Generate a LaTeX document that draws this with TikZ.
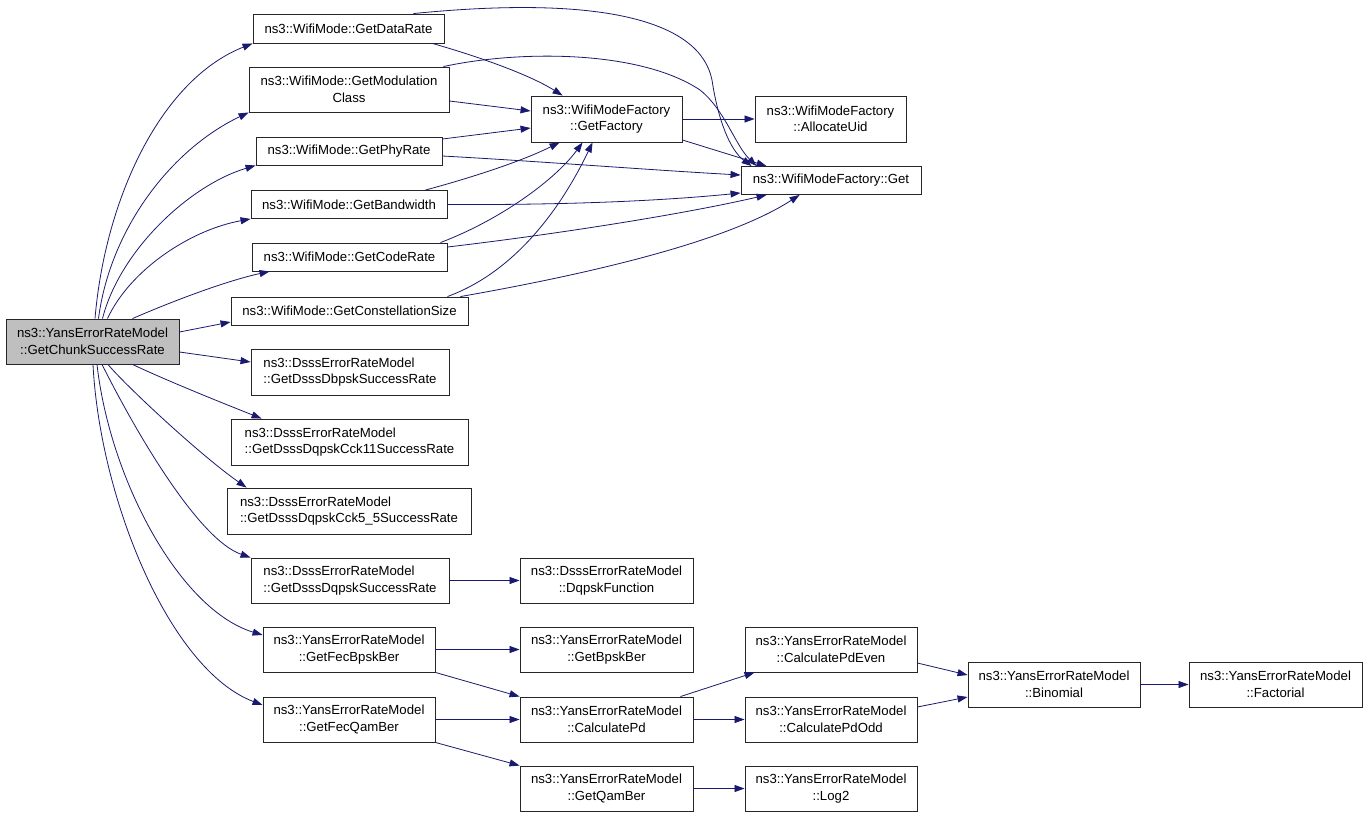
\documentclass[tikz,border=0pt]{standalone}
\usepackage{fontspec}
\setmainfont{Liberation Sans}
\usetikzlibrary{arrows.meta}
\definecolor{edgeblue}{HTML}{191970}
\definecolor{rootgray}{HTML}{BFBFBF}
\newcommand{\dfont}{\fontsize{13.2}{16.5}\selectfont}
\begin{document}
\begin{tikzpicture}[x=1pt,y=-1pt,
  box/.style={draw=black!85, fill=white, line width=0.9pt, inner sep=0pt, align=center, font=\dfont},
  lbox/.style={box, align=left},
  e/.style={draw=edgeblue, line width=0.8pt, -{Triangle[length=10pt,width=7pt]}}]
\useasboundingbox[fill=white] (0,0) rectangle (1368,817);
% nodes
\node[box, fill=rootgray, minimum width=173pt, minimum height=45pt] (root) at (92.5,341.5) {ns3::YansErrorRateModel\\::GetChunkSuccessRate};
\node[box, minimum width=191pt, minimum height=29pt] (dr) at (348.5,28.5) {ns3::WifiMode::GetDataRate};
\node[box, minimum width=200pt, minimum height=45pt] (mc) at (349,89.5) {ns3::WifiMode::GetModulation\\Class};
\node[box, minimum width=186pt, minimum height=28pt] (pr) at (349,151) {ns3::WifiMode::GetPhyRate};
\node[box, minimum width=196pt, minimum height=28pt] (bw) at (349,204.5) {ns3::WifiMode::GetBandwidth};
\node[box, minimum width=195pt, minimum height=28pt] (cr) at (349.5,257) {ns3::WifiMode::GetCodeRate};
\node[box, minimum width=237pt, minimum height=28pt] (cs) at (349.5,311) {ns3::WifiMode::GetConstellationSize};
\node[lbox, minimum width=198pt, minimum height=46pt] (dbpsk) at (350,372) {ns3::DsssErrorRateModel\\::GetDsssDbpskSuccessRate};
\node[lbox, minimum width=237pt, minimum height=46pt] (cck11) at (349.5,442) {ns3::DsssErrorRateModel\\::GetDsssDqpskCck11SuccessRate};
\node[lbox, minimum width=244pt, minimum height=46pt] (cck55) at (349,511) {ns3::DsssErrorRateModel\\::GetDsssDqpskCck5\_5SuccessRate};
\node[lbox, minimum width=198pt, minimum height=45pt] (dqpsk) at (350,580.5) {ns3::DsssErrorRateModel\\::GetDsssDqpskSuccessRate};
\node[box, minimum width=172pt, minimum height=45pt] (fecb) at (349,649.5) {ns3::YansErrorRateModel\\::GetFecBpskBer};
\node[box, minimum width=172pt, minimum height=45pt] (fecq) at (349,719.5) {ns3::YansErrorRateModel\\::GetFecQamBer};
\node[box, minimum width=151pt, minimum height=46pt] (gf) at (606.5,119) {ns3::WifiModeFactory\\::GetFactory};
\node[box, minimum width=151pt, minimum height=46pt] (au) at (830.5,119) {ns3::WifiModeFactory\\::AllocateUid};
\node[box, minimum width=180pt, minimum height=28pt] (get) at (831,180.5) {ns3::WifiModeFactory::Get};
\node[box, minimum width=173pt, minimum height=45pt] (dqf) at (606.5,580.5) {ns3::DsssErrorRateModel\\::DqpskFunction};
\node[box, minimum width=173pt, minimum height=45pt] (bpsk) at (606.5,649.5) {ns3::YansErrorRateModel\\::GetBpskBer};
\node[box, minimum width=173pt, minimum height=45pt] (cpd) at (606.5,719.5) {ns3::YansErrorRateModel\\::CalculatePd};
\node[box, minimum width=173pt, minimum height=45pt] (qam) at (606.5,788.5) {ns3::YansErrorRateModel\\::GetQamBer};
\node[box, minimum width=172pt, minimum height=45pt] (even) at (831,649.5) {ns3::YansErrorRateModel\\::CalculatePdEven};
\node[box, minimum width=172pt, minimum height=45pt] (odd) at (831,719.5) {ns3::YansErrorRateModel\\::CalculatePdOdd};
\node[box, minimum width=172pt, minimum height=45pt] (log) at (831,788.5) {ns3::YansErrorRateModel\\::Log2};
\node[box, minimum width=172pt, minimum height=45pt] (bin) at (1054,684.5) {ns3::YansErrorRateModel\\::Binomial};
\node[box, minimum width=173pt, minimum height=45pt] (fact) at (1275.5,684.5) {ns3::YansErrorRateModel\\::Factorial};
% edges from root
\draw[e] ([xshift=2.5pt]root.north) .. controls (105,200) and (160,80) .. (dr.south west);
\draw[e] ([xshift=6pt]root.north) .. controls (110,230) and (170,150) .. (mc.south west);
\draw[e] ([xshift=10pt]root.north) .. controls (120,250) and (190,185) .. (pr.south west);
\draw[e] ([xshift=15pt]root.north) .. controls (130,270) and (190,230) .. (bw.south west);
\draw[e] ([xshift=40pt]root.north) .. controls (180,298) and (230,280) .. ([xshift=18pt]cr.south west);
\draw[e] ([yshift=9.5pt]root.east) -- ([yshift=-11pt]cs.west);
\draw[e] ([yshift=-10.5pt]root.east) -- ([yshift=10pt]dbpsk.west);
\draw[e] ([xshift=40pt]root.south) .. controls (170,382) and (220,402) .. ([xshift=31pt]cck11.north west);
\draw[e] ([xshift=15.5pt]root.south) .. controls (125,385) and (200,455) .. ([xshift=20pt]cck55.north west);
\draw[e] ([xshift=9.5pt]root.south) .. controls (140,440) and (200,540) .. (dqpsk.north west);
\draw[e] ([xshift=4.5pt]root.south) .. controls (110,480) and (180,610) .. ([yshift=14.5pt]fecb.west);
\draw[e] ([xshift=0.5pt]root.south) .. controls (100,500) and (170,670) .. ([yshift=14.5pt]fecq.west);
% WifiMode edges
\draw[e] ([xshift=-12pt]dr.south east) .. controls (480,57) and (530,75) .. ([xshift=32pt]gf.north west);
\draw[e] ([xshift=-31pt]dr.north east) .. controls (600,-5) and (700,20) .. (712,80) .. controls (718,120) and (730,150) .. ([xshift=11pt]get.north west);
\draw[e] ([xshift=-6pt]mc.north east) .. controls (520,50) and (640,50) .. (700,90) .. controls (725,110) and (735,145) .. ([xshift=16pt]get.north west);
\draw[e] ([yshift=-11.5pt]mc.east) -- ([yshift=8pt]gf.west);
\draw[e] ([yshift=12pt]pr.east) -- ([yshift=-9pt]gf.west);
\draw[e] ([yshift=-5pt]pr.east) .. controls (550,162) and (650,170) .. ([yshift=5.5pt]get.west);
\draw[e] ([xshift=-22pt]bw.north east) .. controls (470,178) and (520,162) .. ([xshift=29pt]gf.south west);
\draw[e] (bw.east) .. controls (550,205) and (650,202) .. ([yshift=-12.5pt]get.west);
\draw[e] ([xshift=-7pt]cr.north east) .. controls (500,220) and (555,180) .. ([xshift=52pt]gf.south west);
\draw[e] ([yshift=10pt]cr.east) .. controls (550,235) and (680,215) .. ([xshift=26pt]get.south west);
\draw[e] ([xshift=-21pt]cs.north east) .. controls (520,270) and (565,200) .. ([xshift=62pt]gf.south west);
\draw[e] ([xshift=-8pt]cs.north east) .. controls (600,272) and (730,240) .. ([xshift=59pt]get.south west);
\draw[e] (gf.east) -- (au.west);
\draw[e] ([yshift=-21pt]gf.east) -- ([xshift=26pt]get.north west);
% lower edges
\draw[e] (dqpsk.east) -- (dqf.west);
\draw[e] (fecb.east) -- (bpsk.west);
\draw[e] (fecb.south east) -- (cpd.north west);
\draw[e] (fecq.east) -- (cpd.west);
\draw[e] (fecq.south east) -- (qam.north west);
\draw[e] ([xshift=-13pt]cpd.north east) -- ([xshift=10pt]even.south west);
\draw[e] (cpd.east) -- (odd.west);
\draw[e] (qam.east) -- (log.west);
\draw[e] ([yshift=-13.5pt]even.east) -- ([yshift=9.5pt]bin.west);
\draw[e] ([yshift=12.5pt]odd.east) -- ([yshift=-12.5pt]bin.west);
\draw[e] (bin.east) -- (fact.west);
\end{tikzpicture}
\end{document}
